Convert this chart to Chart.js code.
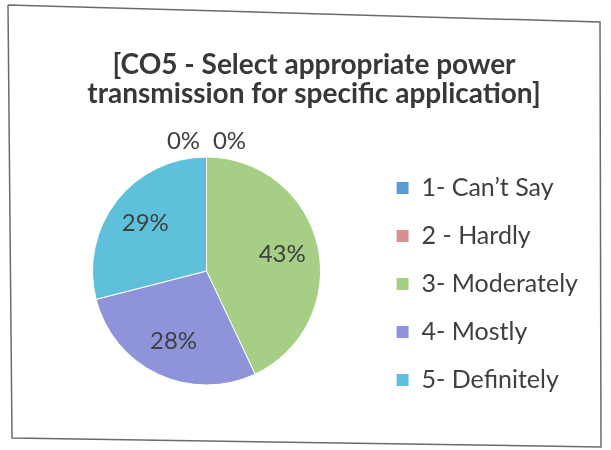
<!DOCTYPE html>
<html>
<head>
<meta charset="utf-8">
<script src="https://cdn.jsdelivr.net/npm/chart.js@4.4.1/dist/chart.umd.min.js"></script>
<style>
  html, body { margin: 0; padding: 0; background: #fff; }
  #wrap { position: relative; width: 611px; height: 450px; }
  #frame { position: absolute; left: 0; top: 0; pointer-events: none; }
</style>
</head>
<body>
<div id="wrap">
  <canvas id="chart" width="611" height="450"></canvas>
  <svg id="frame" width="611" height="450">
    <polyline points="8,5 600,22 601,447 12,438 8,5" fill="none" stroke="#6a6a6a" stroke-width="1.5"/>
  </svg>
</div>
<script>
const categories = ["1- Can\u2019t Say", "2 - Hardly", "3- Moderately", "4- Mostly", "5- Definitely"];
const shares = [0, 0, 43, 28, 29];
const sliceColors = ["#5b9bd5", "#d6908d", "#a6cf85", "#8e93da", "#5ec0da"];
const titleLines = ["[CO5 - Select appropriate power", "transmission for specific application]"];

const legendFont = 25;

// percentage labels, zero slices get pushed above the pie like Excel does
const sliceLabels = {
  id: "sliceLabels",
  afterDatasetsDraw(chart) {
    const { ctx } = chart;
    const meta = chart.getDatasetMeta(0);
    const values = chart.data.datasets[0].data;
    const zeros = values.map((v, i) => (v === 0 ? i : -1)).filter((i) => i >= 0);
    ctx.save();
    ctx.font = "24px Lato";
    ctx.fillStyle = "#404040";
    ctx.textAlign = "center";
    ctx.textBaseline = "middle";
    meta.data.forEach((arc, i) => {
      const { x, y, startAngle, endAngle, outerRadius } = arc.getProps(
        ["x", "y", "startAngle", "endAngle", "outerRadius"], true);
      const mid = (startAngle + endAngle) / 2;
      let lx, ly;
      if (values[i] === 0) {
        const k = zeros.indexOf(i);
        const r = outerRadius + 16;
        lx = x + Math.cos(mid) * r + (k - (zeros.length - 1) / 2) * 46;
        ly = y + Math.sin(mid) * r;
      } else {
        const r = outerRadius * 0.68;
        lx = x + Math.cos(mid) * r;
        ly = y + Math.sin(mid) * r;
      }
      ctx.fillText(values[i] + "%", lx, ly);
    });
    ctx.restore();
  },
};

const ctx = document.getElementById("chart").getContext("2d");
new Chart(ctx, {
  type: "pie",
  data: {
    labels: categories,
    datasets: [
      {
        data: shares,
        backgroundColor: sliceColors,
        borderColor: "#ffffff",
        borderWidth: 1,
        hoverOffset: 0,
        radius: 114,
      },
    ],
  },
  options: {
    responsive: false,
    animation: false,
    layout: {
      padding: { left: 40, right: 23, top: 0, bottom: 30 },
    },
    plugins: {
      title: {
        display: true,
        text: titleLines,
        color: "#383838",
        font: { family: "Lato", size: 28, weight: "bold", lineHeight: 29 / 28 },
        padding: { top: 50, bottom: 14 },
      },
      legend: {
        position: "right",
        // empty title only used to push the entries down
        title: {
          display: true,
          text: " ",
          font: { size: 10, lineHeight: 1 },
          padding: { top: 130, bottom: 8 },
        },
        labels: {
          color: "#404040",
          font: { family: "Lato", size: legendFont },
          boxWidth: 13,
          boxHeight: 13,
          padding: 48 - legendFont,
        },
      },
      tooltip: { enabled: false },
    },
  },
  plugins: [sliceLabels],
});
</script>
</body>
</html>
